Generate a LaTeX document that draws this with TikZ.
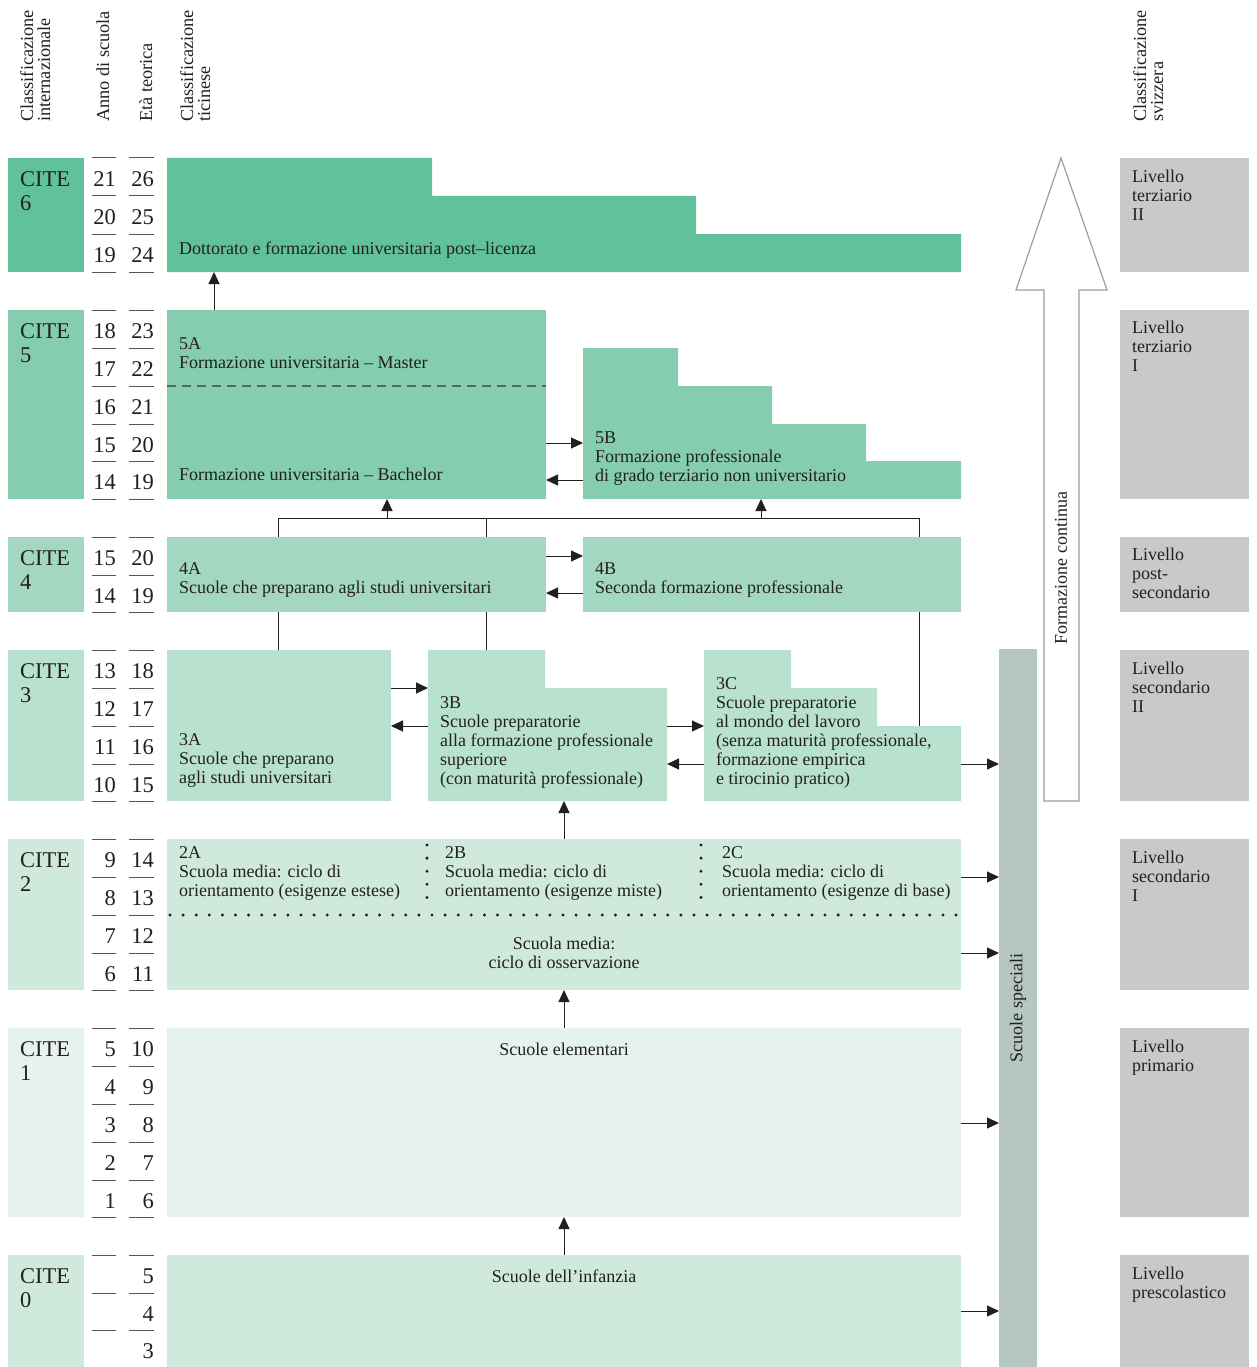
\documentclass[tikz,border=0pt]{standalone}
\usepackage{fontspec}
\setmainfont{Liberation Serif}
\usetikzlibrary{arrows.meta}
\definecolor{csix}{HTML}{60C19A}
\definecolor{cfive}{HTML}{84CDAF}
\definecolor{cfour}{HTML}{A4D7C2}
\definecolor{cthree}{HTML}{B9E1D0}
\definecolor{ctwo}{HTML}{D0E9DD}
\definecolor{cone}{HTML}{E6F3ED}
\definecolor{cspec}{HTML}{B5C7BF}
\definecolor{cgray}{HTML}{C8C9CB}
\definecolor{ink}{HTML}{231F20}
\definecolor{numl}{HTML}{555555}
\definecolor{dashc}{HTML}{4F6B5F}
\newcommand\bodyfont{\fontsize{18}{19}\selectfont}
\newcommand\numfont{\fontsize{22.5}{24}\selectfont}
\newcommand\headfont{\fontsize{18.3}{17}\selectfont}
\newcommand\rbox[6]{\node[fill=#6, inner sep=0pt, outer sep=0pt, anchor=north west,
  minimum width={(#4-#2)*1pt}, minimum height={(#5-#3)*1pt}] (#1) at (#2,#3) {};}
\begin{document}
\begin{tikzpicture}[x=1pt,y=-1pt,
  tx/.style={anchor=base west, inner sep=0pt, align=left, font=\bodyfont, text=ink},
  txc/.style={anchor=base, inner sep=0pt, align=center, font=\bodyfont, text=ink},
  numtx/.style={anchor=base east, inner sep=0pt, font=\numfont, text=ink},
  citetx/.style={anchor=base west, inner sep=0pt, align=left, font=\numfont, text=ink},
  headtx/.style={anchor=base west, inner sep=0pt, align=left, font=\headfont, text=ink, rotate=90},
  numline/.style={draw=numl, line width=1pt},
  conn/.style={draw=ink, line width=1pt},
  arr/.style={draw=ink, line width=1pt, -{Triangle[length=12pt,width=11pt]}},
  dotl/.style={draw=ink, line width=3.3pt, line cap=round, dash pattern=on 0pt off 13.1pt}]
\useasboundingbox (0,0) rectangle (1256,1367);

% headers (anchor = baseline of the last line)
\node[headtx] (h1) at (50,122) {Classificazione\\internazionale};
\node[headtx] (h2) at (109,122) {Anno di scuola};
\node[headtx] (h3) at (152,122) {Età teorica};
\node[headtx] (h4) at (210,122) {Classificazione\\ticinese};
\node[headtx] (h5) at (1163,122) {Classificazione\\svizzera};

% CITE boxes
\rbox{cite6}{8}{158}{84}{272}{csix}
\rbox{cite5}{8}{310}{84}{499}{cfive}
\rbox{cite4}{8}{537}{84}{612}{cfour}
\rbox{cite3}{8}{650}{84}{801}{cthree}
\rbox{cite2}{8}{839}{84}{990}{ctwo}
\rbox{cite1}{8}{1028}{84}{1217}{cone}
\rbox{cite0}{8}{1255}{84}{1367}{ctwo}
\foreach \n/\y in {6/186,5/338,4/565,3/678,2/867,1/1056,0/1283}{
  \node[citetx] (ct\n) at (20,\y+24) {CITE\\\n};
}

% number lines
\foreach \y in {158,196,234,272,310,348,386,424,461,499,537,575,612,650,688,726,764,801,839,877,915,953,990,1028,1066,1104,1142,1180,1217,1255,1293,1330}{
  \draw[numline] (92,\y) -- (116,\y);
  \draw[numline] (129,\y) -- (154,\y);
}
\foreach \t/\a/\e in {158/21/26,196/20/25,234/19/24,310/18/23,348/17/22,386/16/21,424/15/20,461/14/19,537/15/20,575/14/19,650/13/18,688/12/17,726/11/16,764/10/15,839/9/14,877/8/13,915/7/12,953/6/11,1028/5/10,1066/4/9,1104/3/8,1142/2/7,1180/1/6}{
  \node[numtx] (na\t) at (116,\t+28) {\a};
  \node[numtx] (ne\t) at (154,\t+28) {\e};
}
\foreach \t/\e in {1255/5,1293/4,1330/3}{
  \node[numtx] (ne\t) at (154,\t+28) {\e};
}

% connectors behind boxes
\coordinate (j1) at (278,518);
\coordinate (j2) at (486,518);
\coordinate (j3) at (919,518);
\coordinate (j4) at (387,518);
\coordinate (j5) at (761,518);
\draw[conn] (278,650) -- (j1) -- (j3) -- (919,726);
\draw[conn] (486,650) -- (j2);

% main boxes
\rbox{b6}{167}{158}{961}{272}{none}
\fill[csix] (167,158) -- (432,158) -- (432,196) -- (696,196) -- (696,234) -- (961,234) -- (961,272) -- (167,272) -- cycle;
\rbox{b5A}{167}{310}{546}{499}{cfive}
\rbox{b5B}{583}{348}{961}{499}{none}
\fill[cfive] (583,348) -- (678,348) -- (678,386) -- (772,386) -- (772,424) -- (866,424) -- (866,461) -- (961,461) -- (961,499) -- (583,499) -- cycle;
\rbox{b4A}{167}{537}{546}{612}{cfour}
\rbox{b4B}{583}{537}{961}{612}{cfour}
\rbox{b3A}{167}{650}{391}{801}{cthree}
\rbox{b3B}{428}{650}{667}{801}{none}
\fill[cthree] (428,650) -- (545,650) -- (545,688) -- (667,688) -- (667,801) -- (428,801) -- cycle;
\rbox{b3C}{704}{650}{961}{801}{none}
\fill[cthree] (704,650) -- (791,650) -- (791,688) -- (877,688) -- (877,726) -- (961,726) -- (961,801) -- (704,801) -- cycle;
\rbox{b2}{167}{839}{961}{990}{ctwo}
\rbox{b1}{167}{1028}{961}{1217}{cone}
\rbox{b0}{167}{1255}{961}{1367}{ctwo}
\rbox{spec}{999}{649}{1037}{1367}{cspec}

% right grey boxes
\rbox{g6}{1120}{158}{1249}{272}{cgray}
\rbox{g5}{1120}{310}{1249}{499}{cgray}
\rbox{g4}{1120}{537}{1249}{612}{cgray}
\rbox{g3}{1120}{650}{1249}{801}{cgray}
\rbox{g2}{1120}{839}{1249}{990}{cgray}
\rbox{g1}{1120}{1028}{1249}{1217}{cgray}
\rbox{g0}{1120}{1255}{1249}{1367}{cgray}

% Formazione continua arrow
\draw[draw=black!38, fill=white, line width=1.2pt, line join=miter] (1044,801) -- (1044,290) -- (1016,290) -- (1061,158) -- (1107,290) -- (1079,290) -- (1079,801) -- cycle;
\node[anchor=center, inner sep=0pt, rotate=90, font=\bodyfont, text=ink] (fc) at (1061,568) {Formazione continua};
\node[anchor=center, inner sep=0pt, rotate=90, font=\bodyfont, text=ink] (sp) at (1018,1008) {Scuole speciali};

% dashed / dotted separators
\draw[draw=dashc, line width=1.1pt, dash pattern=on 9pt off 6pt] (b5A.west |- 0,386) -- (b5A.east |- 0,386);
\draw[dotl] (170,915) -- (961,915);
\draw[dotl] (427,845) -- (427,900);
\draw[dotl] (701,845) -- (701,900);

% texts in boxes (anchor = baseline of the last line)
\node[tx] (t6) at (179,254) {Dottorato e formazione universitaria post–licenza};
\node[tx] (t5a) at (179,368) {5A\\Formazione universitaria – Master};
\node[tx] (t5b) at (179,480) {Formazione universitaria – Bachelor};
\node[tx] (t5B) at (595,481) {5B\\Formazione professionale\\di grado terziario non universitario};
\node[tx] (t4A) at (179,593) {4A\\Scuole che preparano agli studi universitari};
\node[tx] (t4B) at (595,593) {4B\\Seconda formazione professionale};
\node[tx] (t3A) at (179,783) {3A\\Scuole che preparano\\agli studi universitari};
\node[tx] (t3B) at (440,784) {3B\\Scuole preparatorie\\alla formazione professionale\\superiore\\(con maturità professionale)};
\node[tx] (t3C) at (716,784) {3C\\Scuole preparatorie\\al mondo del lavoro\\(senza maturità professionale,\\formazione empirica\\e tirocinio pratico)};
\node[tx] (t2A) at (179,896) {2A\\Scuola media: ciclo di\\orientamento (esigenze estese)};
\node[tx] (t2B) at (445,896) {2B\\Scuola media: ciclo di\\orientamento (esigenze miste)};
\node[tx] (t2C) at (722,896) {2C\\Scuola media: ciclo di\\orientamento (esigenze di base)};
\node[txc] (t2) at (564,968) {Scuola media:\\ciclo di osservazione};
\node[txc] (t1) at (564,1055) {Scuole elementari};
\node[txc] (t0) at (564,1282) {Scuole dell’infanzia};

% right texts
\node[tx] (r6) at (1132,220) {Livello\\terziario\\II};
\node[tx] (r5) at (1132,371) {Livello\\terziario\\I};
\node[tx] (r4) at (1132,598) {Livello\\post-\\secondario};
\node[tx] (r3) at (1132,712) {Livello\\secondario\\II};
\node[tx] (r2) at (1132,901) {Livello\\secondario\\I};
\node[tx] (r1) at (1132,1071) {Livello\\primario};
\node[tx] (r0) at (1132,1298) {Livello\\prescolastico};

% arrows
\draw[arr] (b5A.north -| 214,0) -- (b6.south -| 214,0);
\draw[arr] (j4) -- (b5A.south -| j4);
\draw[arr] (j5) -- (b5B.south -| j5);
\draw[arr] (b5A.east |- 0,443) -- (b5B.west |- 0,443);
\draw[arr] (b5B.west |- 0,480) -- (b5A.east |- 0,480);
\draw[arr] (b4A.east |- 0,556) -- (b4B.west |- 0,556);
\draw[arr] (b4B.west |- 0,593) -- (b4A.east |- 0,593);
\draw[arr] (b3A.east |- 0,688) -- (b3B.west |- 0,688);
\draw[arr] (b3B.west |- 0,726) -- (b3A.east |- 0,726);
\draw[arr] (b3B.east |- 0,726) -- (b3C.west |- 0,726);
\draw[arr] (b3C.west |- 0,764) -- (b3B.east |- 0,764);
\draw[arr] (b2.north -| 564,0) -- (b3B.south -| 564,0);
\draw[arr] (b1.north) -- (b2.south);
\draw[arr] (b0.north) -- (b1.south);
\draw[arr] (b3C.east |- 0,764) -- (spec.west |- 0,764);
\draw[arr] (b2.east |- 0,877) -- (spec.west |- 0,877);
\draw[arr] (b2.east |- 0,953) -- (spec.west |- 0,953);
\draw[arr] (b1.east |- 0,1123) -- (spec.west |- 0,1123);
\draw[arr] (b0.east |- 0,1311) -- (spec.west |- 0,1311);
\end{tikzpicture}
\end{document}
